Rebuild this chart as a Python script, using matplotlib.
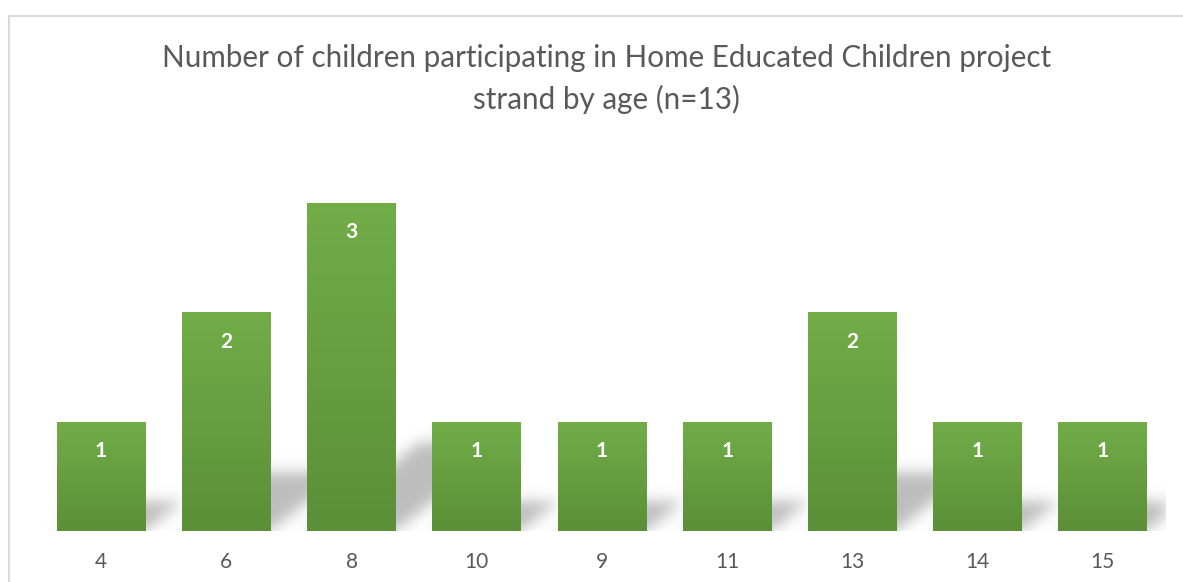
import matplotlib
matplotlib.use("Agg")
import matplotlib.pyplot as plt
import numpy as np
from matplotlib.lines import Line2D

# 数据
ages = ['4', '6', '8', '10', '9', '11', '13', '14', '15']
counts = [1, 2, 3, 1, 1, 1, 2, 1, 1]
title = 'Number of children participating in Home Educated Children project\nstrand by age (n=13)'

plt.rcParams['font.family'] = ['Lato', 'DejaVu Sans']

fig = plt.figure(figsize=(11.83, 5.82), dpi=100)
ax = fig.add_axes([0.0325, 0.0876, 0.9527, 0.658])

x = np.arange(len(ages))
width = 0.71
ymax = 3.5
xlo, xhi = -0.5, len(ages) - 0.5

# 阴影 (透视投影 + 模糊)
nx, ny = 1127, 383
gx = np.linspace(xlo, xhi, nx)
gy = np.linspace(0, ymax, ny)
XX, YY = np.meshgrid(gx, gy)
mask = np.zeros_like(XX)
for xi, c in zip(x, counts):
    sh = 0.27 * c
    t = YY / sh
    inside = (YY >= 0) & (YY <= sh)
    left = xi - width / 2 + 0.3 * c * t
    right = xi + width / 2 + 0.3 * c * t
    mask[inside & (XX >= left) & (XX <= right)] = 1.0

def blur(a, sigma, axis):
    r = int(3 * sigma)
    k = np.exp(-0.5 * (np.arange(-r, r + 1) / sigma) ** 2)
    k /= k.sum()
    return np.apply_along_axis(lambda v: np.convolve(v, k, mode='same'), axis, a)

mask = blur(blur(mask, 7, 1), 7, 0)
shadow = np.zeros((ny, nx, 4))
shadow[..., :3] = 0.70
shadow[..., 3] = np.clip(mask * 0.85, 0, 1)
ax.imshow(shadow, extent=[xlo, xhi, 0, ymax], origin='lower', aspect='auto',
          interpolation='bilinear', zorder=1)

# 渐变柱
grad = np.linspace(0, 1, 256).reshape(-1, 1)
cmap = matplotlib.colors.LinearSegmentedColormap.from_list('g', ['#5b8f38', '#72ad48'])
bars = ax.bar(x, counts, width=width, color='none', edgecolor='none', zorder=2)
for b, c in zip(bars, counts):
    im = ax.imshow(grad, extent=[b.get_x(), b.get_x() + b.get_width(), 0, c],
                   origin='lower', aspect='auto', cmap=cmap, zorder=2)
    im.set_clip_path(b)
    ax.text(b.get_x() + b.get_width() / 2, c - 0.27, str(c), ha='center', va='center',
            color='white', fontsize=15, fontweight='bold', zorder=3)

ax.set_xlim(xlo, xhi)
ax.set_ylim(0, ymax)
ax.set_xticks(x)
ax.set_xticklabels(ages, fontsize=15, color='#595959')
ax.tick_params(axis='x', length=0, pad=15)
ax.set_yticks([])
for s in ax.spines.values():
    s.set_visible(False)

fig.text(0.513, 0.864, title, ha='center', va='center', fontsize=21.3,
         color='#595959', linespacing=1.55)

# 图框
fig.add_artist(Line2D([9 / 1183, 9 / 1183], [0, 1 - 16 / 582], color='#d9d9d9', lw=1.5))
fig.add_artist(Line2D([9 / 1183, 1], [1 - 16 / 582, 1 - 16 / 582], color='#d9d9d9', lw=1.5))

plt.savefig('out.png', dpi=100)
